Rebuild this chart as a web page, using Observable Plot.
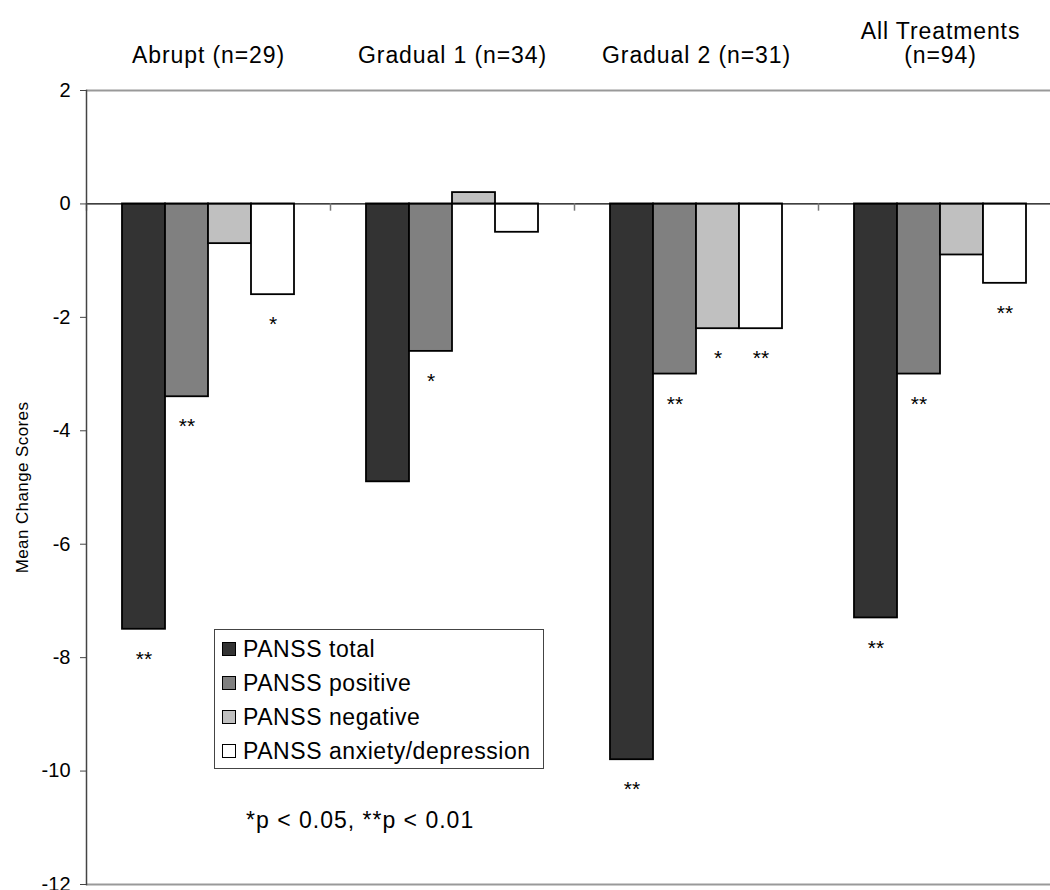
<!DOCTYPE html>
<html>
<head>
<meta charset="utf-8">
<script src="https://cdn.jsdelivr.net/npm/d3@7"></script>
<script src="https://cdn.jsdelivr.net/npm/@observablehq/plot@0.6"></script>
<style>
  html, body { margin: 0; padding: 0; background: #fff; overflow: hidden; }
  #wrap { position: relative; width: 1050px; height: 890px; overflow: hidden;
          font-family: "Liberation Sans", Arial, sans-serif; color: #000; }
  #chart { position: absolute; left: 0; top: 0; width: 1062px; }
  #chart svg { display: block; overflow: visible; max-width: none !important; }
  g[aria-label="fx-axis tick label"] text { letter-spacing: 0.9px; }
  g[aria-label="text"].ytitle text, .ytitle text { letter-spacing: 0.4px; }
  #legend { position: absolute; left: 214px; top: 629px; width: 328px;
            border: 1px solid #444; background: #fff; padding: 2px 0 0 0; }
  #legend .row { height: 34px; line-height: 34px; font-size: 23px; letter-spacing: 0.55px;
                 white-space: nowrap; display: flex; align-items: center; }
  #legend .sw { width: 12px; height: 12px; border: 1.5px solid #000; margin: 0 7px 0 7px; flex: none; }
  #note { position: absolute; left: 246px; top: 805px; font-size: 23px; letter-spacing: 1px;
          line-height: 30px; white-space: nowrap; }
</style>
</head>
<body>
<div id="wrap">
  <div id="chart"></div>
  <div id="legend"></div>
  <div id="note"></div>
</div>
<script>
// ---- data ----
const groups = ["Abrupt (n=29)", "Gradual 1 (n=34)", "Gradual 2 (n=31)", "All Treatments\n(n=94)"];
const series = ["PANSS total", "PANSS positive", "PANSS negative", "PANSS anxiety/depression"];
const colors = ["#333333", "#808080", "#c0c0c0", "#ffffff"];
const totalScores    = [-7.5, -4.9, -9.8, -7.3];
const positiveScores = [-3.4, -2.6, -3.0, -3.0];
const negativeScores = [-0.7,  0.2, -2.2, -0.9];
const anxietyScores  = [-1.6, -0.5, -2.2, -1.4];
const totalSig    = ["**", "",  "**", "**"];
const positiveSig = ["**", "*", "**", "**"];
const negativeSig = ["",   "",  "*",  ""];
const anxietySig  = ["*",  "",  "**", "**"];
const yTicks = [2, 0, -2, -4, -6, -8, -10, -12];
const yTitle = "Mean Change Scores";
const footnote = "*p < 0.05, **p < 0.01";

// ---- table ----
const valuesBySeries = [totalScores, positiveScores, negativeScores, anxietyScores];
const sigBySeries = [totalSig, positiveSig, negativeSig, anxietySig];
const data = [];
groups.forEach((g, i) => series.forEach((s, j) => {
  data.push({group: g, series: s, value: valuesBySeries[j][i], sig: sigBySeries[j][i]});
}));

// ---- layout ----
const width = 1062, height = 890;
const marginTop = 90, marginBottom = 6, marginLeft = 86;
const yDomain = [d3.min(yTicks), d3.max(yTicks)];
const plotH = height - marginTop - marginBottom;
const zeroOffset = (yDomain[1] - 0) / (yDomain[1] - yDomain[0]) * plotH;

const chart = Plot.plot({
  width, height,
  marginTop, marginBottom, marginLeft, marginRight: 0,
  style: {fontFamily: "'Liberation Sans', Arial, sans-serif", background: "transparent", color: "#000", maxWidth: "none"},
  fx: {domain: groups, padding: 0, label: null},
  x: {domain: series, paddingInner: 0, paddingOuter: 0.773, axis: null},
  y: {domain: yDomain, axis: null},
  color: {domain: series, range: colors},
  marks: [
    Plot.ruleY([yDomain[1]], {stroke: "#999", strokeWidth: 2}),
    Plot.ruleY([yDomain[0]], {stroke: "#999", strokeWidth: 2}),
    Plot.barY(data, {fx: "group", x: "series", y: "value", fill: "series", stroke: "#000", strokeWidth: 1.8}),
    Plot.ruleY([0], {stroke: "#000", strokeWidth: 1.3}),
    // group boundary ticks below the zero line
    Plot.frame({anchor: "left", stroke: "#777", strokeWidth: 1.5,
                insetTop: zeroOffset, insetBottom: plotH - zeroOffset - 6}),
    // y axis line
    Plot.frame({anchor: "left", stroke: "#444", strokeWidth: 1.5, facetAnchor: "left"}),
    Plot.axisY({ticks: yTicks, tickSize: 6, tickPadding: 10, fontSize: 20, stroke: "#444",
                label: null, tickFormat: d => String(d)}),
    Plot.text([yTitle], {frameAnchor: "left", rotate: -90, dx: -64, fontSize: 17,
                textAnchor: "middle", lineAnchor: "middle", facetAnchor: "left", className: "ytitle"}),
    Plot.axisFx({anchor: "top", tickSize: 0, tickPadding: 28, fontSize: 23, lineHeight: 1.02, label: null}),
    Plot.text(data.filter(d => d.sig), {fx: "group", x: "series", y: "value", text: "sig",
                dy: 30, fontSize: 21, lineAnchor: "middle"})
  ]
});
document.getElementById("chart").appendChild(chart);

// ---- legend ----
const legend = document.getElementById("legend");
series.forEach((s, j) => {
  const row = document.createElement("div");
  row.className = "row";
  const sw = document.createElement("span");
  sw.className = "sw";
  sw.style.background = colors[j];
  const label = document.createElement("span");
  label.textContent = s;
  row.appendChild(sw);
  row.appendChild(label);
  legend.appendChild(row);
});
document.getElementById("note").textContent = footnote;
</script>
</body>
</html>
